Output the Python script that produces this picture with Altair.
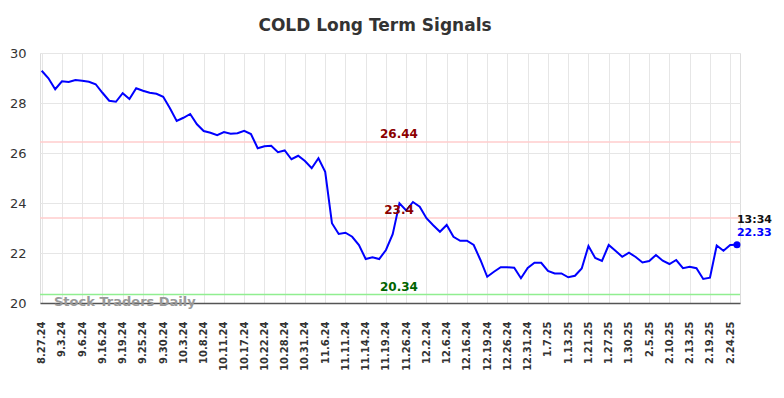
import json
import altair as alt
import pandas as pd

# ---- data ----
tick_labels = ["8.27.24", "9.3.24", "9.6.24", "9.16.24", "9.19.24", "9.25.24", "9.30.24",
               "10.3.24", "10.8.24", "10.11.24", "10.17.24", "10.22.24", "10.28.24", "10.31.24",
               "11.6.24", "11.11.24", "11.14.24", "11.19.24", "11.26.24", "12.2.24", "12.6.24",
               "12.16.24", "12.19.24", "12.26.24", "12.31.24", "1.7.25", "1.13.25", "1.21.25",
               "1.27.25", "1.30.25", "2.5.25", "2.10.25", "2.13.25", "2.19.25", "2.24.25"]

prices = [29.29, 28.99, 28.55, 28.87, 28.84, 28.92, 28.89, 28.85, 28.75, 28.41,
          28.09, 28.05, 28.39, 28.16, 28.59, 28.49, 28.41, 28.37, 28.25, 27.79,
          27.28, 27.41, 27.56, 27.15, 26.88, 26.81, 26.71, 26.84, 26.77, 26.79,
          26.89, 26.76, 26.19, 26.27, 26.29, 26.03, 26.10, 25.75, 25.89, 25.68,
          25.39, 25.79, 25.25, 23.19, 22.76, 22.81, 22.65, 22.32, 21.76, 21.83,
          21.76, 22.12, 22.75, 23.99, 23.70, 24.04, 23.85, 23.39, 23.11, 22.85,
          23.12, 22.65, 22.49, 22.49, 22.32, 21.72, 21.05, 21.25, 21.43, 21.43,
          21.41, 20.99, 21.40, 21.61, 21.61, 21.28, 21.18, 21.18, 21.03, 21.09,
          21.38, 22.28, 21.80, 21.68, 22.32, 22.09, 21.85, 22.01, 21.84, 21.62,
          21.68, 21.92, 21.69, 21.56, 21.72, 21.39, 21.45, 21.39, 20.96, 21.01,
          22.30, 22.09, 22.32, 22.33]

level_values = [26.44, 23.4, 20.34]
level_labels = ["26.44", "23.4", "20.34"]
level_line_colors = ["#ffcccc", "#ffcccc", "#90ee90"]
level_text_colors = ["#8b0000", "#8b0000", "#006400"]

last_time = "13:34"
title_text = "COLD Long Term Signals"
watermark = "Stock Traders Daily"

# ---- tables ----
df = pd.DataFrame({"i": list(range(len(prices))), "price": prices})
last = df.iloc[[-1]].copy()
last["tlabel"] = last_time
last["plabel"] = [f"{p:.2f}" for p in last["price"]]
levels = pd.DataFrame({"v": level_values, "label": level_labels,
                       "lc": level_line_colors, "tc": level_text_colors})

FONT = "DejaVu Sans"
xscale = alt.Scale(domain=[-0.25, 103.45], nice=False, zero=False)
yscale = alt.Scale(domain=[20, 30], nice=False, zero=False)

label_expr = json.dumps(tick_labels) + "[round(datum.value / 3)]"

x_axis = alt.Axis(values=list(range(0, 103, 3)), labelExpr=label_expr,
                  labelAngle=-90, labelFontSize=10, labelFontWeight="bold",
                  labelColor="#333333", labelPadding=18, ticks=False,
                  labelOverlap=False, labelBound=False, labelFlush=False,
                  grid=True, gridColor="#e6e6e6", domainColor="#555555",
                  domainWidth=1.5, title=None, labelFont=FONT)
y_axis = alt.Axis(values=[20, 22, 24, 26, 28, 30], labelFontSize=13,
                  labelColor="#333333", labelPadding=14, ticks=False,
                  domain=False, grid=True, gridColor="#e6e6e6",
                  labelOverlap=False, title=None, labelFont=FONT)

X = alt.X("i:Q", scale=xscale, axis=x_axis)
Yp = alt.Y("price:Q", scale=yscale, axis=y_axis)
Yv = alt.Y("v:Q", scale=yscale, axis=y_axis)

line = alt.Chart(df).mark_line(color="#0000ff", strokeWidth=2).encode(x=X, y=Yp)

rules = alt.Chart(levels).mark_rule(strokeWidth=1.5).encode(
    y=Yv,
    color=alt.Color("lc:N", scale=None),
)

level_text = alt.Chart(levels).mark_text(
    fontSize=12, fontWeight="bold", font=FONT, align="center", baseline="middle", dy=-8
).encode(
    x=alt.value(359),
    y=Yv,
    text="label:N",
    color=alt.Color("tc:N", scale=None),
)

dot = alt.Chart(last).mark_point(filled=True, size=50, color="#0000ff", opacity=1).encode(
    x=X, y=Yp
)

t_time = alt.Chart(last).mark_text(
    fontSize=11, fontWeight="bold", font=FONT, align="left", baseline="middle",
    dy=-25, color="#111111"
).encode(x=X, y=Yp, text="tlabel:N")

t_price = alt.Chart(last).mark_text(
    fontSize=11, fontWeight="bold", font=FONT, align="left", baseline="middle",
    dy=-12, color="#0000ff"
).encode(x=X, y=Yp, text="plabel:N")

wm = alt.Chart(pd.DataFrame({"t": [watermark]})).mark_text(
    fontSize=13, fontWeight="bold", font=FONT, align="left", baseline="middle",
    color="#999999"
).encode(x=alt.value(14), y=alt.value(249), text="t:N")

title = alt.Chart(pd.DataFrame({"t": [title_text]})).mark_text(
    fontSize=17, fontWeight="bold", font=FONT, align="center", baseline="middle",
    color="#333333"
).encode(x=alt.value(335), y=alt.value(-27), text="t:N")

chart = alt.layer(rules, line, level_text, dot, t_time, t_price, wm, title).properties(
    width=700, height=250,
    autosize=alt.AutoSizeParams(type="none"),
    padding={"left": 32, "top": 45, "right": 36, "bottom": 87},
).configure_view(stroke=None).configure(font=FONT, background="white")

chart.save("out.html", embed_options={"renderer": "svg", "actions": False})
